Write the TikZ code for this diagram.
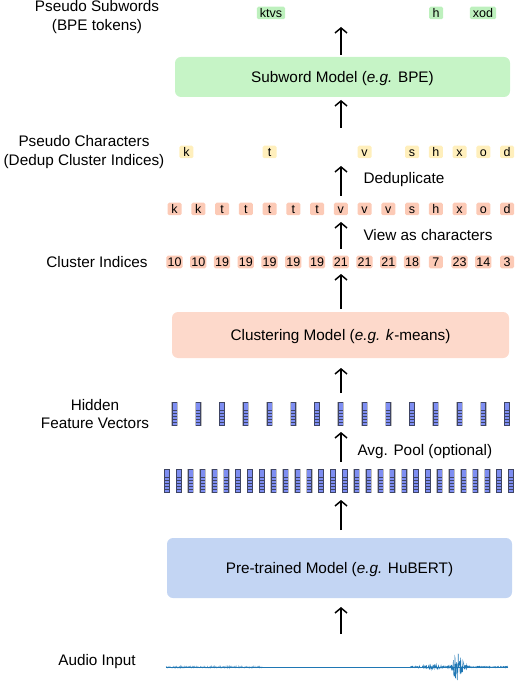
\documentclass[tikz,border=0pt]{standalone}
\usepackage{fontspec}
\setmainfont{Liberation Sans}
\usetikzlibrary{arrows.meta}
\definecolor{boxgreen}{HTML}{C6F4C6}
\definecolor{boxred}{HTML}{FDD9CB}
\definecolor{boxblue}{HTML}{C3D5F3}
\definecolor{tokgreen}{HTML}{BDF0BD}
\definecolor{tokyellow}{HTML}{FFEFBC}
\definecolor{tokred}{HTML}{FCCAB6}
\definecolor{vecedge}{HTML}{3E4463}
\definecolor{veccell}{HTML}{7E8EF2}
\definecolor{wave}{HTML}{1F77B4}
\tikzset{
  mainfont/.style={font=\fontsize{15.3}{18.5}\selectfont},
  modelbox/.style={rounded corners=6pt, mainfont, text height=11pt, text depth=0pt},
  tok/.style={rounded corners=1.5pt, inner xsep=1.2pt, inner ysep=0pt, minimum width=14pt,
    minimum height=12.5pt, text height=9pt, text depth=0pt, font=\fontsize{12.5}{13}\selectfont},
  gtok/.style={tok, fill=tokgreen, inner xsep=3pt},
  sidelabel/.style={mainfont, align=center},
  uparrow/.style={line width=1.5pt, -{Straight Barb[length=5pt,width=12pt,line width=1.5pt]}},
  fvec/.pic={
    \fill[gray!50] (-3.3,-12.4) rectangle (3.3,12.4);
    \fill[vecedge] (-2.7,-12) rectangle (2.7,12);
    \foreach \k in {0,...,7} \fill[veccell] (-1.9,{-11.4+\k*2.85}) rectangle (2.1,{-9.3+\k*2.85});
  }
}
\begin{document}
\begin{tikzpicture}[x=1pt,y=-1pt]
\useasboundingbox (0,0) rectangle (516,684);

% side labels
\node[sidelabel] (lblsub) at (97,17) {Pseudo Subwords\\(BPE tokens)};
\node[sidelabel] (lblpc) at (84,152) {Pseudo Characters\\(Dedup Cluster Indices)};
\node[mainfont] (lblci) at (97,262) {Cluster Indices};
\node[sidelabel] (lblhf) at (95,414) {Hidden\\Feature Vectors};
\node[mainfont] (lblai) at (97,662) {Audio Input};

% model boxes
\node[modelbox, fill=boxgreen, minimum width=335pt, minimum height=40pt] (bpe) at (342.5,77) {Subword Model (\textit{e.g.} BPE)};
\node[modelbox, fill=boxred, minimum width=337pt, minimum height=46pt] (clus) at (340.5,335) {Clustering Model (\textit{e.g. k}-means)};
\node[modelbox, fill=boxblue, minimum width=345pt, minimum height=60pt] (pre) at (339.5,568) {Pre-trained Model (\textit{e.g.} HuBERT)};

% pseudo subwords
\node[gtok] (sw1) at (271,13) {ktvs};
\node[gtok] (sw2) at (436,13) {h};
\node[gtok] (sw3) at (483,13) {xod};

% pseudo characters (dedup)
\foreach \c/\col [count=\i] in {k/1.5,t/5,v/9,s/11,h/12,x/13,o/14,d/15}
  \node[tok, fill=tokyellow] (pc\i) at ({174.5+23.75*(\col-1)},152) {\c};

% characters
\foreach \c [count=\i] in {k,k,t,t,t,t,t,v,v,v,s,h,x,o,d}
  \node[tok, fill=tokred] (ch\i) at ({174.5+23.75*(\i-1)},209) {\c};

% cluster indices
\foreach \n [count=\i] in {10,10,19,19,19,19,19,21,21,21,18,7,23,14,3}
  \node[tok, fill=tokred] (ci\i) at ({174.5+23.75*(\i-1)},262) {\n};

% feature vectors
\foreach \i in {1,...,15}
  \pic (fv\i) at ({174.5+23.75*(\i-1)},414) {fvec};
\foreach \i in {1,...,30}
  \pic (fb\i) at ({167+11.86*(\i-1)},481) {fvec};

% arrow labels
\node[mainfont, anchor=base west] (lbldd) at (360,184) {Deduplicate};
\node[mainfont, anchor=base west] (lblva) at (360,241) {View as characters};
\node[mainfont, anchor=base west] (lblap) at (354,455) {Avg. Pool (optional)};

% arrow end points
\coordinate (a1s) at (341,55);  \coordinate (a1e) at (341,27);
\coordinate (a2s) at (341,128); \coordinate (a2e) at (341,100);
\coordinate (a3s) at (341,196); \coordinate (a3e) at (341,166);
\coordinate (a4s) at (341,249); \coordinate (a4e) at (341,222);
\coordinate (a5s) at (341,309); \coordinate (a5e) at (341,274);
\coordinate (a6s) at (341,393); \coordinate (a6e) at (341,368);
\coordinate (a7s) at (341,462); \coordinate (a7e) at (341,432);
\coordinate (a8s) at (341,530); \coordinate (a8e) at (341,500);
\coordinate (a9s) at (341,634); \coordinate (a9e) at (341,607);
\foreach \k in {1,...,9} \draw[uparrow] (a\k s) -- (a\k e);

% waveform
\pgfmathsetseed{7}
\draw[wave!60, line width=0.6pt] plot[domain=166:262, samples=220] (\x,{667+1.0*rand});
\draw[wave, line width=1.0pt] (166,667.3) -- (508,667.3);
\draw[wave, line width=0.5pt] plot[domain=410:508, samples=320]
  (\x,{667+(0.7+1.8*exp(max(-((\x-432)/10)^2,-9))+15*exp(max(-((\x-458)/5)^2,-9)))*rand});
\end{tikzpicture}
\end{document}
